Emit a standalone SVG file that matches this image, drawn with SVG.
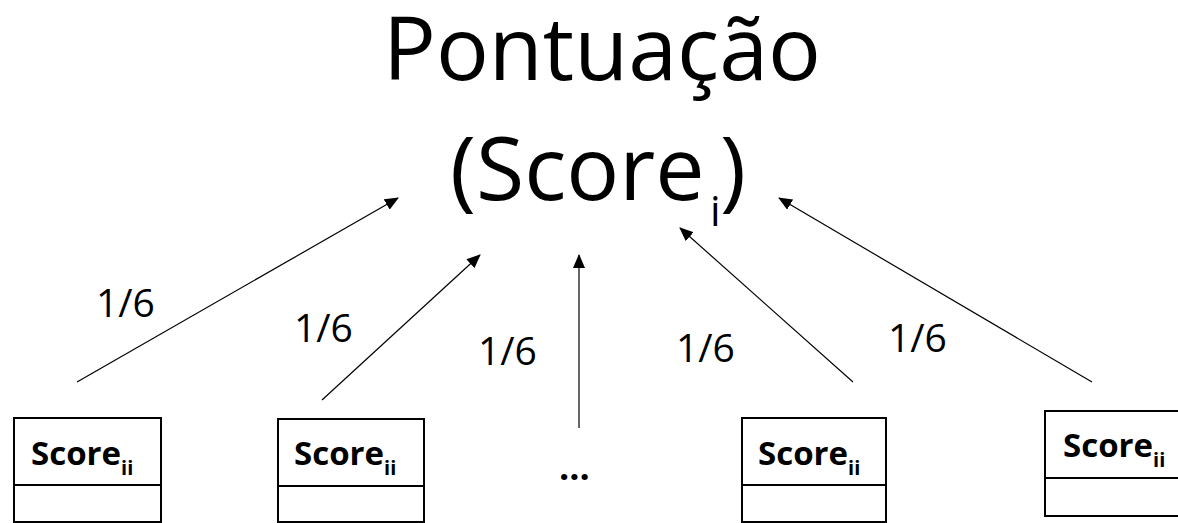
<svg xmlns="http://www.w3.org/2000/svg" width="1178" height="523" viewBox="0 0 1178 523">
<style>
.title{font-family:"Open Sans","Liberation Sans",sans-serif;font-size:88px;fill:#000}
.sub1{font-family:"Open Sans","Liberation Sans",sans-serif;font-size:42px;fill:#000}
.box{fill:#fff;stroke:#000;stroke-width:2}
.div{stroke:#000;stroke-width:2}
.bt{font-family:"Open Sans","Liberation Sans",sans-serif;font-weight:bold;font-size:33px;fill:#000}
.bs{font-size:20px}
.lbl{font-family:"Open Sans","Liberation Sans",sans-serif;font-size:39px;fill:#000}
.con line{stroke:#000;stroke-width:1.2;fill:none}
</style>
<defs>
<marker id="ah" markerWidth="14" markerHeight="12" refX="13" refY="6" orient="auto" markerUnits="userSpaceOnUse">
<path d="M0,0 L14,6 L0,12 Z" fill="#000"/>
</marker>
</defs>
<rect width="1178" height="523" fill="#fff"/>
<g id="title">
<text class="title" x="602" y="80" text-anchor="middle">Pontuação</text>
<text class="title" x="450" y="200">(Score</text>
<text class="sub1" x="710" y="226">i</text>
<text class="title" x="720" y="200">)</text>
</g>
<g class="con" id="connectors">
<line x1="77" y1="382" x2="398" y2="198" marker-end="url(#ah)"/>
<line x1="322" y1="400" x2="480" y2="255" marker-end="url(#ah)"/>
<line x1="579" y1="428" x2="579" y2="255" marker-end="url(#ah)"/>
<line x1="853" y1="382" x2="680" y2="228" marker-end="url(#ah)"/>
<line x1="1092" y1="382" x2="779" y2="198" marker-end="url(#ah)"/>
</g>
<g id="labels">
<text class="lbl" x="96" y="317">1/6</text>
<text class="lbl" x="294" y="342">1/6</text>
<text class="lbl" x="478" y="365">1/6</text>
<text class="lbl" x="676" y="362">1/6</text>
<text class="lbl" x="888" y="352">1/6</text>
</g>
<g id="node1">
<rect class="box" x="14" y="418" width="147" height="104"/>
<line class="div" x1="14" y1="485" x2="161" y2="485"/>
<text class="bt" x="31" y="465">Score<tspan class="bs" dy="10">ii</tspan></text>
</g>
<g id="node2">
<rect class="box" x="278" y="419" width="146" height="103"/>
<line class="div" x1="278" y1="486" x2="424" y2="486"/>
<text class="bt" x="294" y="465">Score<tspan class="bs" dy="10">ii</tspan></text>
</g>
<g id="ellipsis">
<text class="lbl" x="559" y="480" style="font-size:36px;font-weight:bold">...</text>
</g>
<g id="node3">
<rect class="box" x="742" y="418" width="144" height="104"/>
<line class="div" x1="742" y1="485" x2="886" y2="485"/>
<text class="bt" x="758" y="465">Score<tspan class="bs" dy="10">ii</tspan></text>
</g>
<g id="node4">
<rect class="box" x="1045" y="411" width="150" height="105"/>
<line class="div" x1="1045" y1="478" x2="1195" y2="478"/>
<text class="bt" x="1063" y="457">Score<tspan class="bs" dy="10">ii</tspan></text>
</g>
</svg>
